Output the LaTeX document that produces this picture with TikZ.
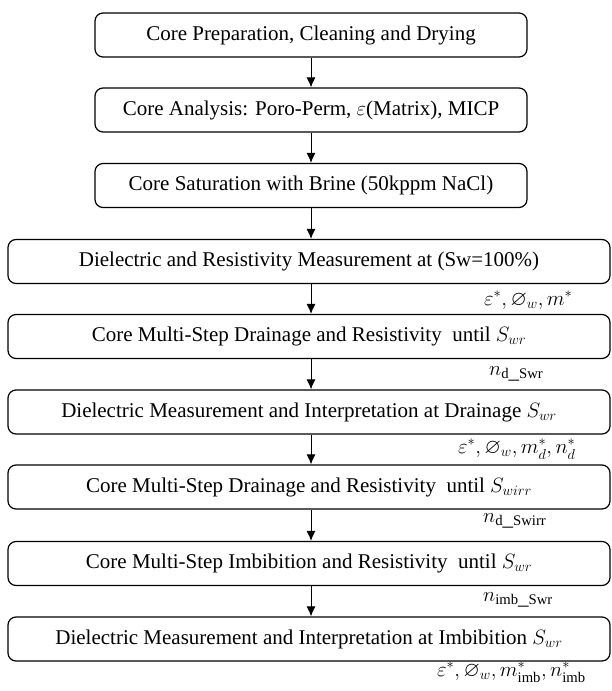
\documentclass[tikz,border=0pt]{standalone}
\usepackage{amssymb}
\usepackage{fontspec}
\setmainfont{Liberation Serif}
\usetikzlibrary{arrows.meta}
\begin{document}
\begin{tikzpicture}[x=1pt,y=-1pt,
  box/.style={draw, rounded corners=8pt, line width=1.2pt, minimum height=44pt,
    inner sep=0pt, font=\fontsize{21}{24}\selectfont},
  narrow/.style={box, minimum width=432pt},
  wide/.style={box, minimum width=602pt},
  flow/.style={-{Latex[length=10pt,width=9pt]}, line width=1pt},
  lab/.style={anchor=west, inner sep=0pt, font=\fontsize{21}{24}\selectfont}]
\useasboundingbox (0,0) rectangle (612,691);
\node[narrow] (b1) at (311,35) {Core Preparation, Cleaning and Drying};
\node[narrow] (b2) at (311,110) {Core Analysis: Poro-Perm, $\varepsilon$(Matrix), MICP};
\node[narrow] (b3) at (311,185.5) {Core Saturation with Brine (50kppm NaCl)};
\node[wide] (b4) at (309,261.5) {Dielectric and Resistivity Measurement at (Sw=100\%)};
\node[wide] (b5) at (309,336.5) {Core Multi-Step Drainage and Resistivity~ until $S_{wr}$};
\node[wide] (b6) at (309,412) {Dielectric Measurement and Interpretation at Drainage $S_{wr}$};
\node[wide] (b7) at (309,487) {Core Multi-Step Drainage and Resistivity~ until $S_{wirr}$};
\node[wide] (b8) at (309,563.5) {Core Multi-Step Imbibition and Resistivity~ until $S_{wr}$};
\node[wide] (b9) at (309,639) {Dielectric Measurement and Interpretation at Imbibition $S_{wr}$};
\draw[flow] (b1.south) -- (b2.north);
\draw[flow] (b2.south) -- (b3.north);
\draw[flow] (b3.south) -- (b3.south |- b4.north);
\draw[flow] (b3.south |- b4.south) -- (b3.south |- b5.north);
\draw[flow] (b3.south |- b5.south) -- (b3.south |- b6.north);
\draw[flow] (b3.south |- b6.south) -- (b3.south |- b7.north);
\draw[flow] (b3.south |- b7.south) -- (b3.south |- b8.north);
\draw[flow] (b3.south |- b8.south) -- (b3.south |- b9.north);
\node[lab] (l1) at (484,300) {$\varepsilon^*, \varnothing_w, m^*$};
\node[lab] (l2) at (489,374) {$n_{\mathrm{d\_Swr}}$};
\node[lab] (l3) at (458,449) {$\varepsilon^*, \varnothing_w, m_d^*, n_d^*$};
\node[lab] (l4) at (483,521) {$n_{\mathrm{d\_Swirr}}$};
\node[lab] (l5) at (483,600) {$n_{\mathrm{imb\_Swr}}$};
\node[lab] (l6) at (437,672) {$\varepsilon^*, \varnothing_w, m_{\mathrm{imb}}^*, n_{\mathrm{imb}}^*$};
\end{tikzpicture}
\end{document}
